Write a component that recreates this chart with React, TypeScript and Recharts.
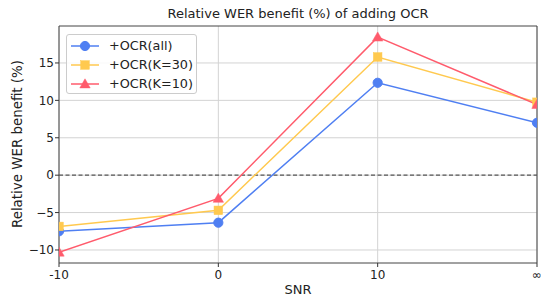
import React from 'react';
import { LineChart, Line, XAxis, YAxis, CartesianGrid, ReferenceLine, ReferenceArea } from 'recharts';

const snrLabels = ['-10', '0', '10', '∞'];
const snrIndex = [0, 1, 2, 3];
const ocrAll = [-7.5, -6.35, 12.35, 7.0];
const ocrK30 = [-6.85, -4.7, 15.8, 9.75];
const ocrK10 = [-10.3, -3.1, 18.45, 9.45];
const yTicks = [-10, -5, 0, 5, 10, 15];

const BLUE = '#4f7ff2';
const YELLOW = '#ffc94f';
const RED = '#ff5b6c';

const data = snrIndex.map((x, i) => ({ x, all: ocrAll[i], k30: ocrK30[i], k10: ocrK10[i] }));

const series = [
  { key: 'all', name: '+OCR(all)', color: BLUE, shape: 'circle' },
  { key: 'k30', name: '+OCR(K=30)', color: YELLOW, shape: 'square' },
  { key: 'k10', name: '+OCR(K=10)', color: RED, shape: 'triangle' },
];

function Marker({ cx, cy, color, shape }: any) {
  if (cx == null || cy == null) return null;
  if (shape === 'circle') return <circle cx={cx} cy={cy} r={4.6} fill={color} stroke={color} />;
  if (shape === 'square') return <rect x={cx - 4.3} y={cy - 4.3} width={8.6} height={8.6} fill={color} stroke={color} strokeWidth={0.5} />;
  const s = 5.2;
  return <polygon points={`${cx},${cy - s} ${cx - s},${cy + s * 0.75} ${cx + s},${cy + s * 0.75}`} fill={color} stroke={color} strokeWidth={0.5} />;
}

const LegendBox = () => (
  <div style={{ position: 'absolute', left: 66, top: 34, boxSizing: 'border-box', width: 131, height: 60, border: '1px solid #cccccc', borderRadius: 3, background: 'rgba(255,255,255,0.85)', padding: '1px 0 0 3px', fontFamily: 'DejaVu Sans', fontSize: 12.8, color: '#222', whiteSpace: 'nowrap' }}>
    {series.map((s) => (
      <div key={s.key} style={{ display: 'flex', alignItems: 'center', height: 19 }}>
        <svg width={30} height={14} style={{ marginRight: 9, flexShrink: 0 }}>
          <line x1={1} y1={7} x2={29} y2={7} stroke={s.color} strokeWidth={1.5} />
          <Marker cx={15} cy={7} color={s.color} shape={s.shape} />
        </svg>
        <span>{s.name}</span>
      </div>
    ))}
  </div>
);

export default function App() {
  return (
    <div style={{ position: 'absolute', left: 0, top: 0, width: 541, height: 297, background: '#fff', fontFamily: 'DejaVu Sans' }}>
      <LineChart width={541} height={297} data={data} margin={{ top: 26, right: 4, left: 0, bottom: 0 }}>
        <CartesianGrid stroke="#d3d3d3" strokeWidth={1} verticalValues={snrIndex} horizontalValues={yTicks} />
        <XAxis
          dataKey="x"
          type="number"
          domain={[0, 3]}
          ticks={snrIndex}
          tickFormatter={(v: number) => snrLabels[v]}
          allowDataOverflow
          height={34}
          tickSize={4}
          tickMargin={3}
          stroke="#333"
          tick={{ fill: '#222', fontSize: 12, fontFamily: 'DejaVu Sans' }}
          axisLine={false}
        />
        <YAxis
          type="number"
          domain={[-11.74, 19.94]}
          ticks={yTicks}
          allowDataOverflow
          width={59}
          tickSize={4}
          tickMargin={1}
          stroke="#333"
          tickFormatter={(v: number) => String(v).replace('-', '\u2212')}
          tick={{ fill: '#222', fontSize: 12, fontFamily: 'DejaVu Sans' }}
          axisLine={false}
        />
        <ReferenceLine y={0} stroke="#555" strokeDasharray="4 2.5" strokeWidth={1.2} />
        {series.map((s) => (
          <Line
            key={s.key}
            dataKey={s.key}
            name={s.name}
            type="linear"
            stroke={s.color}
            strokeWidth={1.5}
            isAnimationActive={false}
            dot={(p: any) => <Marker key={`${s.key}-${p.index}`} cx={p.cx} cy={p.cy} color={s.color} shape={s.shape} />}
            activeDot={false}
          />
        ))}
        <ReferenceArea x1={0} x2={3} y1={-11.74} y2={19.94} fill="none" stroke="#444" strokeWidth={1} ifOverflow="extendDomain" />
      </LineChart>
      <LegendBox />
      <div style={{ position: 'absolute', left: 59, width: 478, top: 6, textAlign: 'center', fontSize: 13, color: '#222', lineHeight: '16px', whiteSpace: 'nowrap' }}>
        Relative WER benefit (%) of adding OCR
      </div>
      <div style={{ position: 'absolute', left: 59, width: 478, top: 282, textAlign: 'center', fontSize: 13, color: '#222', lineHeight: '16px', whiteSpace: 'nowrap' }}>
        SNR
      </div>
      <div style={{ position: 'absolute', left: -82, top: 136, width: 200, height: 16, textAlign: 'center', fontSize: 13.4, color: '#222', lineHeight: '16px', whiteSpace: 'nowrap', transform: 'rotate(-90deg)', transformOrigin: '100px 8px' }}>
        Relative WER benefit (%)
      </div>
    </div>
  );
}
